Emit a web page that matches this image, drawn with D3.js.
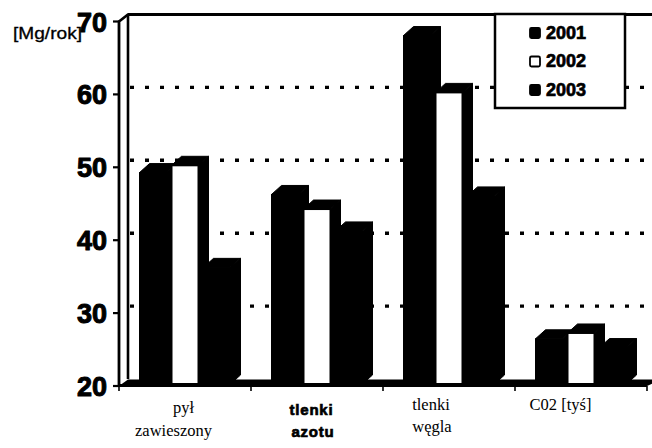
<!DOCTYPE html>
<html>
<head>
<meta charset="utf-8">
<script src="https://cdn.jsdelivr.net/npm/d3@7"></script>
<style>
  html, body { margin: 0; padding: 0; background: #fff; }
  svg { display: block; }
</style>
</head>
<body>
<script>
// Emisje zanieczyszczeń w latach 2001–2003
const categories = ["pył zawieszony", "tlenki azotu", "tlenki węgla", "C02 [tyś]"];
const years = ["2001", "2002", "2003"];
const values2001 = [49, 46, 67.8, 26.2];
const values2002 = [50, 44, 60, 27];
const values2003 = [36, 41, 45.8, 25];
const yTicks = [20, 30, 40, 50, 60, 70];
const gridValues = [30, 40, 50, 60];
const unitLabel = "[Mg/rok]";

const series = [values2001, values2002, values2003];

// Category label lines with their own typeface
const labelLines = [
  [{ t: "pył", dx: -1.5, y: 413, serif: true }, { t: "zawieszony", dx: -11.5, y: 436, serif: true }],
  [{ t: "tlenki", dx: -5.5, y: 415, serif: false }, { t: "azotu", dx: -4, y: 437, serif: false }],
  [{ t: "tlenki", dx: -18, y: 410, serif: true }, { t: "węgla", dx: -17, y: 432, serif: true }],
  [{ t: "C02 [tyś]", dx: -20.5, y: 410, serif: true }]
];

const W = 652, H = 448;
const SANS = "'Liberation Sans', Arial, sans-serif";
const SERIF = "'Liberation Serif', 'Times New Roman', serif";

// 3D geometry: wall offset and bar depth
const wallDx = 9, wallDy = 7;
const barDx = 10, barDy = 9, barLift = 2;
const barW = 27, barPitch = 32;

const svg = d3.select("body").append("svg")
  .attr("width", W).attr("height", H)
  .attr("viewBox", `0 0 ${W} ${H}`);

svg.append("rect").attr("width", W).attr("height", H).attr("fill", "#fff");

const y = d3.scaleLinear().domain([20, 70]).range([386, 21.5]);
const x = d3.scaleBand().domain(categories).range([119, 647]).padding(0);
const xs = d3.scalePoint().domain(years).range([-barPitch, barPitch]);

const x0 = x.range()[0];
const xEnd = x.range()[1];

// Back wall dotted gridlines
svg.append("g").selectAll("line").data(gridValues).join("line")
  .attr("x1", x0 + wallDx + 2).attr("x2", W)
  .attr("y1", d => y(d) - wallDy).attr("y2", d => y(d) - wallDy)
  .attr("stroke", "#000").attr("stroke-width", 3.4)
  .attr("stroke-dasharray", "4 11");

// Floor slab
const yBase = y(20);
svg.append("path")
  .attr("d", `M${x0},${yBase} L${x0 + wallDx},${yBase - wallDy + 0.5} L${W + 10},${yBase - wallDy + 0.5} L${xEnd},${yBase} Z`)
  .attr("fill", "#000");

// Wall edges: front axis, back corner and top line
svg.append("path")
  .attr("d", `M${x0},${yBase} V${y(70)} L${x0 + wallDx},${y(70) - wallDy} H${W}`)
  .attr("fill", "none").attr("stroke", "#000").attr("stroke-width", 2.8)
  .attr("stroke-linejoin", "round");
svg.append("line")
  .attr("x1", x0 + wallDx).attr("x2", x0 + wallDx)
  .attr("y1", y(70) - wallDy).attr("y2", yBase - wallDy)
  .attr("stroke", "#000").attr("stroke-width", 2.6);

// 3D bars, drawn left to right so each front covers its neighbour's side
const barsG = svg.append("g");
categories.forEach((cat, ci) => {
  years.forEach((yr, si) => {
    const v = series[si][ci];
    const cx = x(cat) + x.bandwidth() / 2 + xs(yr);
    const xl = cx - barW / 2, xr = cx + barW / 2;
    const yt = y(v) - barLift, yb = y(20) - barLift;
    const g = barsG.append("g");
    g.append("path")
      .attr("d", `M${xr},${yt} L${xr + barDx},${yt - barDy} L${xr + barDx},${yb - barDy} L${xr},${yb} Z`)
      .attr("fill", "#000").attr("stroke", "#000").attr("stroke-width", 1);
    g.append("path")
      .attr("d", `M${xl},${yt} L${xl + barDx},${yt - barDy} L${xr + barDx},${yt - barDy} L${xr},${yt} Z`)
      .attr("fill", "#000").attr("stroke", "#000").attr("stroke-width", 1);
    g.append("rect")
      .attr("x", xl).attr("y", yt).attr("width", barW).attr("height", yb - yt)
      .attr("fill", yr === "2002" ? "#fff" : "#000")
      .attr("stroke", "#000").attr("stroke-width", yr === "2002" ? 2 : 1);
  });
});

// Front floor edge
svg.append("line")
  .attr("x1", x0).attr("x2", xEnd).attr("y1", yBase - 0.5).attr("y2", yBase - 0.5)
  .attr("stroke", "#000").attr("stroke-width", 3);

// Y axis ticks and labels
const yAxis = svg.append("g");
yAxis.selectAll("line").data(yTicks).join("line")
  .attr("x1", x0 - 6).attr("x2", x0)
  .attr("y1", d => y(d)).attr("y2", d => y(d))
  .attr("stroke", "#000").attr("stroke-width", 2.2);
yAxis.selectAll("text").data(yTicks).join("text")
  .attr("x", 107).attr("y", d => y(d) + 10)
  .attr("text-anchor", "end")
  .attr("font-family", SANS).attr("font-weight", "bold").attr("font-size", 27)
  .attr("fill", "#000").attr("stroke", "#000").attr("stroke-width", 1)
  .attr("stroke-linejoin", "round")
  .text(d => d);

svg.append("text")
  .attr("x", 13).attr("y", 39)
  .attr("font-family", SANS).attr("font-size", 16)
  .attr("textLength", 69).attr("lengthAdjust", "spacingAndGlyphs")
  .attr("fill", "#000").attr("stroke", "#000").attr("stroke-width", 0.3)
  .text(unitLabel);

// X axis ticks at category boundaries
const bounds = categories.map(c => x(c)).concat([xEnd]);
svg.append("g").selectAll("line").data(bounds).join("line")
  .attr("x1", d => d).attr("x2", d => d)
  .attr("y1", yBase).attr("y2", yBase + 5)
  .attr("stroke", "#000").attr("stroke-width", 1.6);

// Category labels
categories.forEach((cat, ci) => {
  const cx = x(cat) + x.bandwidth() / 2;
  labelLines[ci].forEach(l => {
    svg.append("text")
      .attr("x", cx + l.dx).attr("y", l.y)
      .attr("text-anchor", "middle")
      .attr("font-family", l.serif ? SERIF : SANS)
      .attr("font-weight", l.serif ? "normal" : "bold")
      .attr("font-size", l.serif ? 16.5 : 15)
      .attr("letter-spacing", l.serif ? 0 : 0.8)
      .attr("fill", "#000")
      .attr("stroke", "#000").attr("stroke-width", l.serif ? 0 : 0.7)
      .text(l.t);
  });
});

// Legend
const leg = svg.append("g");
leg.append("rect")
  .attr("x", 495).attr("y", 14).attr("width", 130).attr("height", 94)
  .attr("fill", "#fff").attr("stroke", "#000").attr("stroke-width", 2.5);
years.forEach((yr, i) => {
  const base = 38.5 + i * 28.5;
  leg.append("rect")
    .attr("x", 530).attr("y", base - 10.5).attr("width", 10).attr("height", 10)
    .attr("rx", 1.5)
    .attr("fill", yr === "2002" ? "#fff" : "#000")
    .attr("stroke", "#000").attr("stroke-width", 1.8);
  leg.append("text")
    .attr("x", 546).attr("y", base)
    .attr("font-family", SANS).attr("font-weight", "bold").attr("font-size", 18)
    .attr("fill", "#000").attr("stroke", "#000").attr("stroke-width", 0.7)
    .text(yr);
});
</script>
</body>
</html>
